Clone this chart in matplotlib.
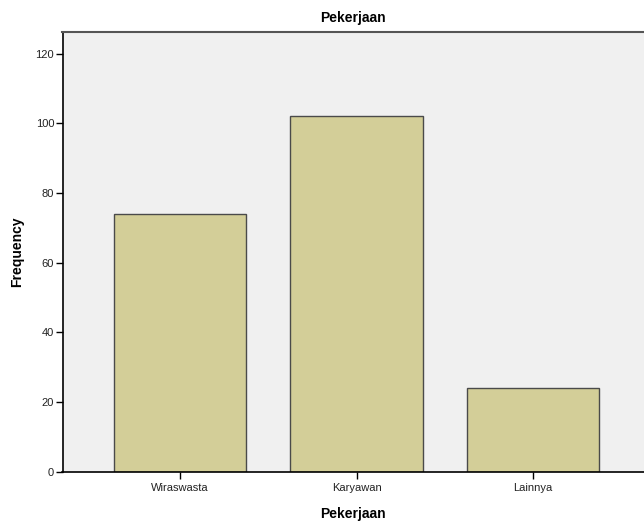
import matplotlib.pyplot as plt
import matplotlib as mpl

mpl.rcParams['font.family'] = ['Liberation Sans', 'DejaVu Sans']

# data
categories = ['Wiraswasta', 'Karyawan', 'Lainnya']
frequency = [74, 102, 24]
y_ticks = [0, 20, 40, 60, 80, 100, 120]

fig = plt.figure(figsize=(6.44, 5.23), dpi=100)
ax = fig.add_axes([62.5/644, 51.3/523, 1 - 62.5/644, (471.7-32)/523])
ax.set_facecolor('#f0f0f0')

x = range(len(categories))
ax.bar(x, frequency, width=0.75, color='#d3ce98', edgecolor='#4a4a4a', linewidth=1, zorder=2)

ax.set_xlim(-0.666, 2.629)
ax.set_ylim(0, 126.2)
ax.set_xticks(list(x))
ax.set_xticklabels(categories, fontsize=8, color='#222222')
ax.set_yticks(y_ticks)
ax.set_yticklabels([str(v) for v in y_ticks], fontsize=8, color='#222222')
ax.tick_params(axis='y', length=5, width=1, color='black', pad=1)
ax.tick_params(axis='x', length=5, width=1, color='black', pad=3)

ax.spines['right'].set_visible(False)
ax.spines['top'].set_color('#555555')
ax.spines['top'].set_linewidth(1.5)
ax.spines['left'].set_linewidth(1.2)
ax.spines['bottom'].set_linewidth(1.2)

ax.set_title('Pekerjaan', fontsize=10, fontweight='bold', pad=7)
ax.set_xlabel('Pekerjaan', fontsize=10, fontweight='bold', labelpad=10)
ax.set_ylabel('Frequency', fontsize=10, fontweight='bold', labelpad=8)

fig.savefig('out.png', dpi=100)
